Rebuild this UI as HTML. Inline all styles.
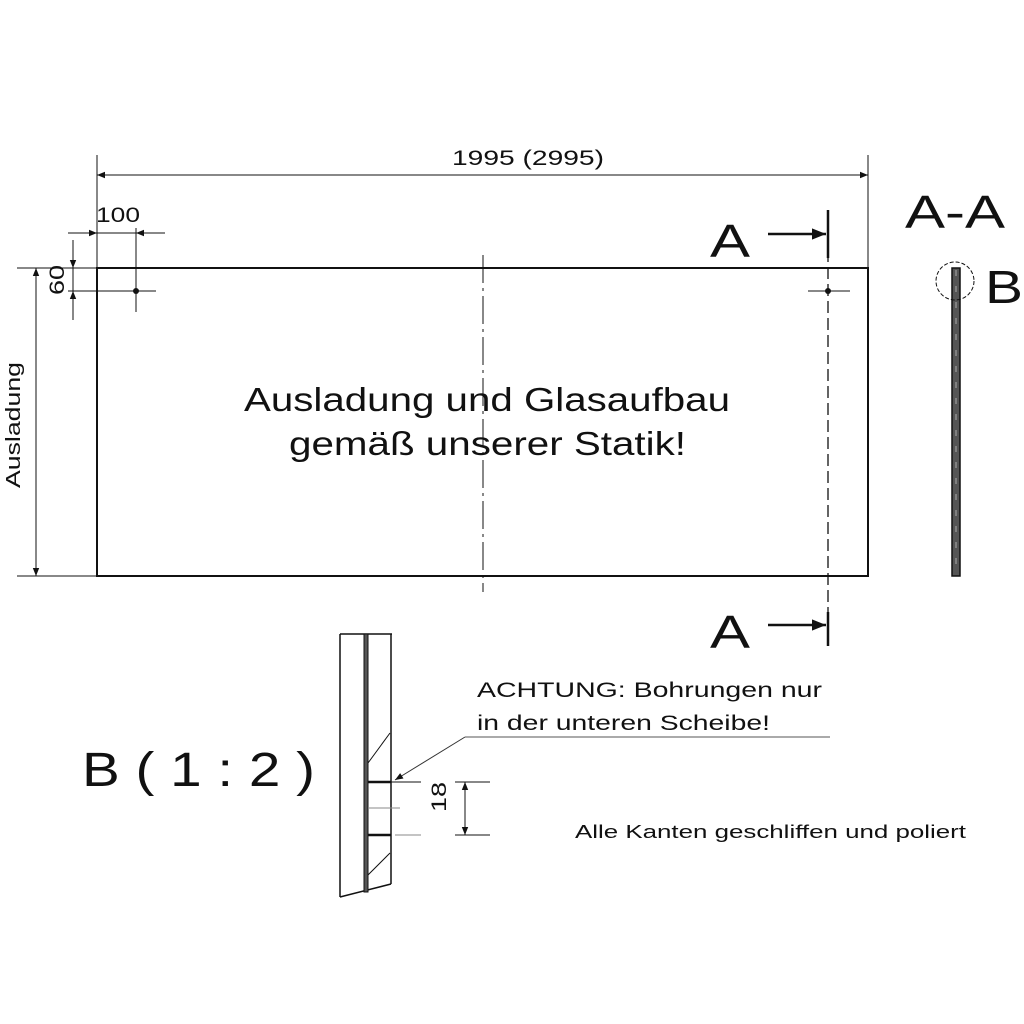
<!DOCTYPE html>
<html><head><meta charset="utf-8"><style>
html,body{margin:0;padding:0;background:#fff}
svg{display:block}
text{font-family:"Liberation Sans",sans-serif;fill:#111}
</style></head><body>
<svg width="1024" height="1024" viewBox="0 0 1024 1024" xmlns="http://www.w3.org/2000/svg">
<defs>
<marker id="ar" viewBox="0 0 10 10" refX="10" refY="5" markerWidth="14" markerHeight="8" markerUnits="userSpaceOnUse" orient="auto-start-reverse"><path d="M0,1 L10,5 L0,9 Z" fill="#111"/></marker>
<marker id="ar2" viewBox="0 0 10 10" refX="10" refY="5" markerWidth="26" markerHeight="14" markerUnits="userSpaceOnUse" orient="auto"><path d="M0,1 L10,5 L0,9 Z" fill="#111"/></marker>
</defs>
<g stroke="#111" fill="none">
<rect x="97" y="268" width="771" height="308" stroke-width="2"/>
<line x1="97" y1="155" x2="97" y2="268" stroke-width="1"/>
<line x1="868" y1="155" x2="868" y2="268" stroke-width="1"/>
<line x1="97" y1="175" x2="868" y2="175" stroke-width="1" marker-start="url(#ar)" marker-end="url(#ar)"/>
<line x1="97" y1="225" x2="97" y2="268" stroke-width="1"/>
<line x1="136" y1="228" x2="136" y2="312" stroke-width="1"/>
<line x1="68" y1="233" x2="97" y2="233" stroke-width="1" marker-end="url(#ar)"/>
<line x1="165" y1="233" x2="136" y2="233" stroke-width="1" marker-end="url(#ar)"/>
<line x1="97" y1="233" x2="136" y2="233" stroke-width="1"/>
<line x1="17" y1="268" x2="97" y2="268" stroke-width="1"/>
<line x1="68" y1="291" x2="156" y2="291" stroke-width="1"/>
<line x1="73" y1="240" x2="73" y2="268" stroke-width="1" marker-end="url(#ar)"/>
<line x1="73" y1="320" x2="73" y2="291" stroke-width="1" marker-end="url(#ar)"/>
<line x1="73" y1="268" x2="73" y2="291" stroke-width="1"/>
<line x1="17" y1="576" x2="97" y2="576" stroke-width="1"/>
<line x1="36" y1="268" x2="36" y2="576" stroke-width="1" marker-start="url(#ar)" marker-end="url(#ar)"/>
<line x1="483" y1="255" x2="483" y2="592" stroke-width="1" stroke-dasharray="28,5,3,5"/>
<line x1="828" y1="250" x2="828" y2="612" stroke-width="1.3" stroke-dasharray="12,5"/>
<line x1="828" y1="210" x2="828" y2="258" stroke-width="2.5"/>
<line x1="828" y1="612" x2="828" y2="646" stroke-width="2.5"/>
<line x1="768" y1="234" x2="826" y2="234" stroke-width="2.5" marker-end="url(#ar2)"/>
<line x1="768" y1="625" x2="826" y2="625" stroke-width="2.5" marker-end="url(#ar2)"/>
<line x1="808" y1="291" x2="850" y2="291" stroke-width="1"/>
<circle cx="136" cy="291" r="3" fill="#111" stroke="none"/>
<circle cx="828" cy="291" r="3" fill="#111" stroke="none"/>
<rect x="952" y="268" width="8" height="308" fill="#555" stroke-width="1.5"/>
<line x1="956" y1="270" x2="956" y2="574" stroke="#aaa" stroke-width="1" stroke-dasharray="6,10"/>
<circle cx="955" cy="281" r="19" stroke-width="1" stroke-dasharray="4,2"/>
<line x1="340" y1="634" x2="392" y2="634" stroke-width="1.5"/>
<line x1="340" y1="634" x2="340" y2="897" stroke-width="1.5"/>
<line x1="391" y1="634" x2="391" y2="884" stroke-width="1.5"/>
<line x1="340" y1="897" x2="391" y2="884" stroke-width="1.5"/>
<rect x="364" y="634" width="4" height="258" fill="#555" stroke-width="1"/>
<line x1="368" y1="763" x2="390" y2="733" stroke-width="1"/>
<line x1="368" y1="875" x2="390" y2="853" stroke-width="1"/>
<line x1="368" y1="782" x2="391" y2="782" stroke-width="2.5"/>
<line x1="391" y1="782" x2="421" y2="782" stroke-width="1"/>
<line x1="368" y1="808" x2="400" y2="808" stroke="#888" stroke-width="1"/>
<line x1="368" y1="835" x2="391" y2="835" stroke-width="2.5"/>
<line x1="395" y1="835" x2="421" y2="835" stroke="#888" stroke-width="1"/>
<line x1="455" y1="782" x2="490" y2="782" stroke-width="1"/>
<line x1="455" y1="835" x2="490" y2="835" stroke-width="1"/>
<line x1="465" y1="782" x2="465" y2="835" stroke-width="1" marker-start="url(#ar)" marker-end="url(#ar)"/>
<line x1="830" y1="737" x2="465" y2="737" stroke="#555" stroke-width="1"/>
<line x1="465" y1="737" x2="395" y2="780" stroke="#333" stroke-width="1" marker-end="url(#ar)"/>
</g>
<g lengthAdjust="spacingAndGlyphs">
<text x="452" y="165" font-size="21" textLength="152" lengthAdjust="spacingAndGlyphs">1995 (2995)</text>
<text x="96" y="222" font-size="21" textLength="44" lengthAdjust="spacingAndGlyphs">100</text>
<text transform="translate(64,295) rotate(-90)" font-size="21" textLength="30" lengthAdjust="spacingAndGlyphs">60</text>
<text transform="translate(20,488) rotate(-90)" font-size="20" textLength="126" lengthAdjust="spacingAndGlyphs">Ausladung</text>
<text x="244" y="411" font-size="33" textLength="486" lengthAdjust="spacingAndGlyphs">Ausladung und Glasaufbau</text>
<text x="289" y="455" font-size="33" textLength="397" lengthAdjust="spacingAndGlyphs">gemäß unserer Statik!</text>
<text x="710" y="257" font-size="46" textLength="40" lengthAdjust="spacingAndGlyphs">A</text>
<text x="710" y="648" font-size="46" textLength="40" lengthAdjust="spacingAndGlyphs">A</text>
<text x="905" y="228" font-size="46" textLength="100" lengthAdjust="spacingAndGlyphs">A-A</text>
<text x="985" y="303" font-size="46" textLength="38" lengthAdjust="spacingAndGlyphs">B</text>
<text x="82" y="786" font-size="48" textLength="233" lengthAdjust="spacingAndGlyphs">B ( 1 : 2 )</text>
<text x="477" y="697" font-size="21" textLength="345" lengthAdjust="spacingAndGlyphs">ACHTUNG: Bohrungen nur</text>
<text x="477" y="730" font-size="21" textLength="293" lengthAdjust="spacingAndGlyphs">in der unteren Scheibe!</text>
<text transform="translate(446,812) rotate(-90)" font-size="21" textLength="30" lengthAdjust="spacingAndGlyphs">18</text>
<text x="575" y="838" font-size="18" textLength="391" lengthAdjust="spacingAndGlyphs">Alle Kanten geschliffen und poliert</text>
</g>
</svg>
</body></html>
